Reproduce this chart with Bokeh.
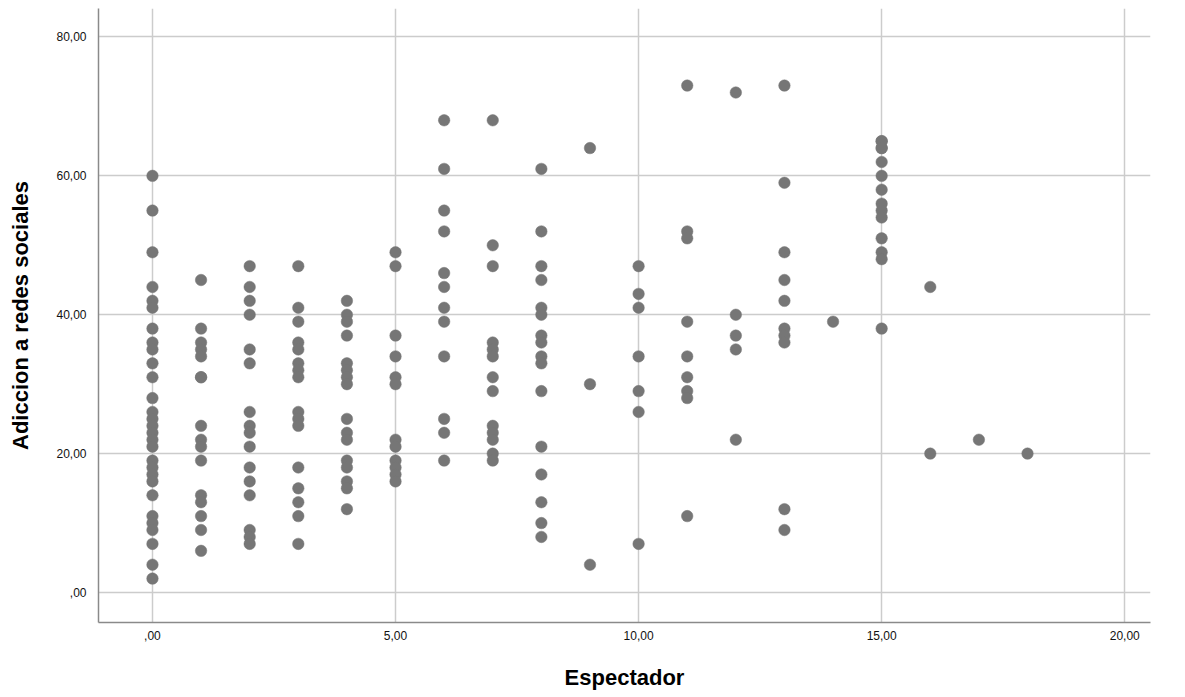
from bokeh.plotting import figure
from bokeh.embed import file_html
from bokeh.resources import INLINE
from bokeh.models import FixedTicker, CustomJSTickFormatter, ColumnDataSource, Range1d

# Adiccion a redes sociales values, grouped by Espectador score
adic_0 = [60, 55, 49, 44, 42, 41, 38, 36, 35, 33, 31, 28, 26, 25, 24, 23, 22, 21,
          19, 18, 17, 16, 14, 11, 10, 9, 7, 4, 2]
adic_1 = [45, 38, 36, 35, 34, 31, 31, 24, 22, 21, 19, 14, 13, 11, 9, 6]
adic_2 = [47, 44, 42, 40, 35, 33, 26, 24, 23, 21, 18, 16, 14, 9, 8, 7]
adic_3 = [47, 41, 39, 36, 35, 33, 32, 31, 26, 25, 24, 18, 15, 13, 11, 7]
adic_4 = [42, 40, 39, 37, 33, 32, 31, 30, 25, 23, 22, 19, 18, 16, 15, 12]
adic_5 = [49, 47, 37, 34, 31, 30, 22, 21, 19, 18, 17, 16]
adic_6 = [68, 61, 55, 52, 46, 44, 41, 39, 34, 25, 23, 19]
adic_7 = [68, 50, 47, 36, 35, 34, 31, 29, 24, 23, 22, 20, 19]
adic_8 = [61, 52, 47, 45, 41, 40, 37, 36, 34, 33, 29, 21, 17, 13, 10, 8]
adic_9 = [64, 30, 4]
adic_10 = [47, 43, 41, 34, 29, 26, 7]
adic_11 = [73, 52, 51, 39, 34, 31, 29, 28, 11]
adic_12 = [72, 40, 37, 35, 22]
adic_13 = [73, 59, 49, 45, 42, 38, 37, 36, 12, 9]
adic_14 = [39]
adic_15 = [65, 65, 64, 64, 62, 60, 58, 56, 55, 54, 51, 49, 48, 38]
adic_16 = [44, 20]
adic_17 = [22]
adic_18 = [20]

espectador_levels = list(range(19))
groups = [adic_0, adic_1, adic_2, adic_3, adic_4, adic_5, adic_6, adic_7, adic_8,
          adic_9, adic_10, adic_11, adic_12, adic_13, adic_14, adic_15, adic_16,
          adic_17, adic_18]

x_ticks = [0, 5, 10, 15, 20]
y_ticks = [0, 20, 40, 60, 80]

xs, ys = [], []
for lvl, vals in zip(espectador_levels, groups):
    for v in vals:
        xs.append(lvl)
        ys.append(v)
src = ColumnDataSource(dict(x=xs, y=ys))

p = figure(width=1168, height=692, output_backend="svg", toolbar_location=None,
           x_range=Range1d(-1.11, 20.53), y_range=Range1d(-4.32, 84.1),
           min_border_left=98, min_border_right=18, min_border_top=8,
           min_border_bottom=70)
p.outline_line_color = None
p.background_fill_color = "white"

p.scatter("x", "y", source=src, size=11.5, fill_color="#767676", line_color="#767676",
          line_width=0.5)

fmt = CustomJSTickFormatter(code="""
let s = tick.toFixed(2).replace('.', ',');
if (s.startsWith('0,')) { s = s.slice(1); }
return s;
""")

for ax, ticks in ((p.xaxis[0], x_ticks), (p.yaxis[0], y_ticks)):
    ax.ticker = FixedTicker(ticks=ticks)
    ax.formatter = fmt
    ax.major_tick_in = 0
    ax.major_tick_out = 0
    ax.minor_tick_in = 0
    ax.minor_tick_out = 0
    ax.axis_line_color = "#8a8a8a"
    ax.axis_line_width = 1.5
    ax.major_label_text_font = "Liberation Sans"
    ax.major_label_text_font_size = "12px"
    ax.major_label_text_color = "#111111"
    ax.axis_label_text_font = "Liberation Sans"
    ax.axis_label_text_font_size = "22px"
    ax.axis_label_text_font_style = "bold"
    ax.axis_label_text_color = "#000000"

p.xaxis.axis_label = "Espectador"
p.yaxis.axis_label = "Adiccion a redes sociales"
p.xaxis.major_label_standoff = 8
p.yaxis.major_label_standoff = 12
p.xaxis.axis_label_standoff = 22
p.yaxis.axis_label_standoff = 20

p.xgrid.ticker = FixedTicker(ticks=x_ticks)
p.ygrid.ticker = FixedTicker(ticks=y_ticks)
for g in (p.xgrid[0], p.ygrid[0]):
    g.grid_line_color = "#cccccc"
    g.grid_line_width = 1.5

open("out.html", "w").write(file_html(p, INLINE))
